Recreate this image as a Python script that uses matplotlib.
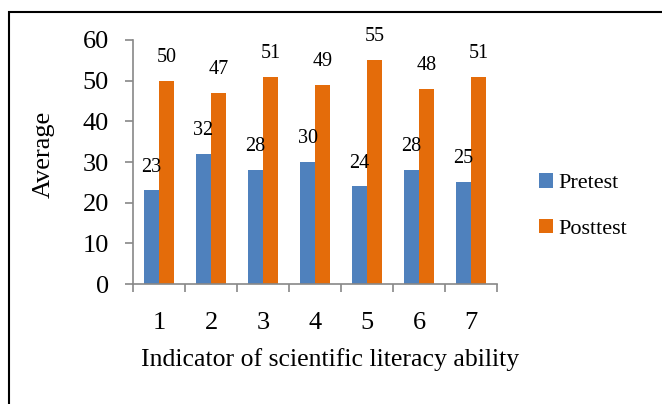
import numpy as np
import matplotlib
matplotlib.use("Agg")
import matplotlib.pyplot as plt
from matplotlib.patches import Rectangle

# data
indicators = ["1", "2", "3", "4", "5", "6", "7"]
pretest = [23, 32, 28, 30, 24, 28, 25]
posttest = [50, 47, 51, 49, 55, 48, 51]

plt.rcParams['font.family'] = ['Liberation Serif', 'DejaVu Serif']

blue = '#4F81BD'
orange = '#E46C0A'
axis_grey = '#888888'

fig = plt.figure(figsize=(6.62, 4.04), dpi=100)
ax = fig.add_axes([0.201, 0.297, 0.550, 0.604])

x = np.arange(len(indicators))
w = 0.29

b1 = ax.bar(x - w / 2, pretest, w, color=blue, label='Pretest')
b2 = ax.bar(x + w / 2, posttest, w, color=orange, label='Posttest')

# value labels above each bar
ax.bar_label(b1, padding=10, fontsize=14.5)
ax.bar_label(b2, padding=10, fontsize=14.5)

ax.set_xlim(-0.5, len(indicators) - 0.5)
ax.set_ylim(0, 60)
ax.set_yticks(np.arange(0, 61, 10))
ax.set_xticks(x)
ax.set_xticklabels(indicators)

# category separators as tick marks on the x axis
ax.set_xticks(np.arange(-0.5, len(indicators)), minor=True)
ax.tick_params(axis='x', which='major', length=0, pad=20, labelsize=19)
ax.tick_params(axis='x', which='minor', length=6, color=axis_grey, width=1.2)
ax.tick_params(axis='y', length=5.5, color=axis_grey, width=1.2, labelsize=19, pad=12)

for side in ['top', 'right']:
    ax.spines[side].set_visible(False)
for side in ['left', 'bottom']:
    ax.spines[side].set_color(axis_grey)
    ax.spines[side].set_linewidth(1.2)

ax.set_ylabel('Average', fontsize=19, labelpad=20)
ax.set_xlabel('Indicator of scientific literacy ability', fontsize=18.5, labelpad=10)
ax.yaxis.label.set_y(0.533)
ax.xaxis.label.set_x(0.541)

fig.legend(handles=[b1, b2], loc='center left', bbox_to_anchor=(0.784, 0.49),
           frameon=False, fontsize=16, handlelength=0.62, handleheight=0.62,
           handletextpad=0.25, labelspacing=1.15)

# black frame around the chart (cut off at right and bottom)
frame = Rectangle((9 / 662, -0.2), 1.2, 0.97 + 0.2, transform=fig.transFigure,
                  fill=False, edgecolor='black', linewidth=1.5)
fig.patches.append(frame)

fig.savefig('out.png', dpi=100)
